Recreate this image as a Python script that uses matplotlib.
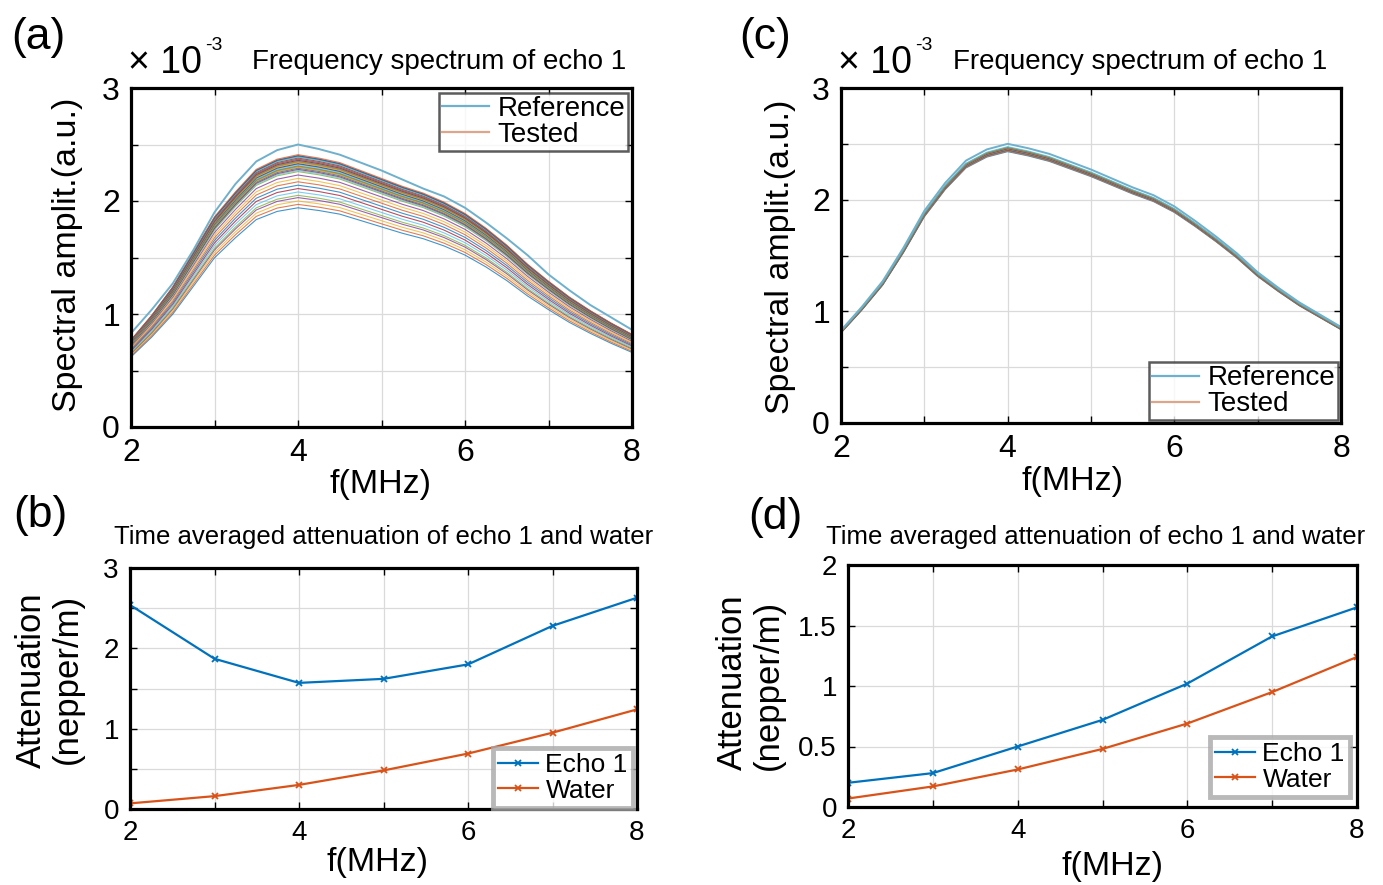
import matplotlib
matplotlib.use('Agg')
import matplotlib.pyplot as plt
from matplotlib.lines import Line2D

plt.rcParams['font.family'] = ['Liberation Sans', 'DejaVu Sans']

# ---------------- data ----------------
freq_spec = [2.0, 2.25, 2.5, 2.75, 3.0, 3.25, 3.5, 3.75, 4.0, 4.25, 4.5, 4.75,
             5.0, 5.25, 5.5, 5.75, 6.0, 6.25, 6.5, 6.75, 7.0, 7.25, 7.5, 7.75, 8.0]
# reference spectrum (x 1e-3)
ref_spec = [0.83, 1.04, 1.27, 1.57, 1.90, 2.15, 2.35, 2.45, 2.50, 2.46, 2.41, 2.34,
            2.27, 2.19, 2.11, 2.04, 1.94, 1.81, 1.67, 1.52, 1.35, 1.21, 1.08, 0.97, 0.86]
# upper tested curve of panel (a)
tested_top_a = [0.77, 0.99, 1.24, 1.55, 1.86, 2.08, 2.28, 2.37, 2.41, 2.38, 2.34, 2.27,
                2.20, 2.13, 2.07, 1.99, 1.89, 1.76, 1.61, 1.44, 1.29, 1.15, 1.03, 0.92, 0.82]
# peak value (at 4 MHz) of every tested curve in panel (a)
peaks_a = [2.41, 2.40, 2.40, 2.39, 2.39, 2.38, 2.38, 2.37, 2.37, 2.36, 2.36, 2.35,
           2.35, 2.34, 2.34, 2.33, 2.33, 2.32, 2.31, 2.31, 2.30, 2.30, 2.29, 2.28,
           2.27, 2.26, 2.23, 2.20, 2.17, 2.14, 2.11, 2.08, 2.05, 2.03, 2.00, 1.97, 1.94]
# peak value (at 4 MHz) of every tested curve in panel (c)
peaks_c = [2.475, 2.47, 2.468, 2.465, 2.462, 2.46, 2.458, 2.456, 2.455, 2.453,
           2.452, 2.45, 2.448, 2.446, 2.445, 2.443, 2.44, 2.438, 2.435, 2.43]

freq_att = [2, 3, 4, 5, 6, 7, 8]
echo_b = [2.54, 1.87, 1.57, 1.62, 1.80, 2.28, 2.63]
water_b = [0.07, 0.16, 0.30, 0.48, 0.69, 0.95, 1.24]
echo_d = [0.20, 0.28, 0.50, 0.72, 1.02, 1.41, 1.65]
water_d = [0.07, 0.17, 0.31, 0.48, 0.69, 0.95, 1.24]

matlab_colors = ['#0072BD', '#D95319', '#EDB120', '#7E2F8E', '#77AC30', '#4DBEEE', '#A2142F']
ref_color = '#6fb0cc'
tested_legend_color = '#dca58c'

# ---------------- figure ----------------
W, H = 1383, 885
fig = plt.figure(figsize=(W / 100, H / 100), dpi=100)


def rect(l, t, r, b):
    return [l / W, 1 - b / H, (r - l) / W, (b - t) / H]


ax_a = fig.add_axes(rect(131, 88, 632, 427))
ax_c = fig.add_axes(rect(841, 88, 1341, 423))
ax_b = fig.add_axes(rect(130, 568, 637, 809))
ax_d = fig.add_axes(rect(848, 565, 1357, 807))


def style(ax, ymax, ystep, ylabels, fs):
    ax.set_xlim(2, 8)
    ax.set_ylim(0, ymax)
    ax.set_xticks([2, 3, 4, 5, 6, 7, 8])
    ax.set_xticklabels(['2', '', '4', '', '6', '', '8'])
    n = int(round(ymax / ystep))
    yt = [i * ystep for i in range(n + 1)]
    ax.set_yticks(yt)
    ax.set_yticklabels(ylabels)
    ax.tick_params(direction='in', length=5, width=1, top=True, right=True,
                   labelsize=fs, pad=8)
    ax.grid(True, color='#dadada', lw=0.9)
    ax.set_axisbelow(True)
    for s in ax.spines.values():
        s.set_linewidth(2.3)
        s.set_color('black')


yl3 = ['0', '', '1', '', '2', '', '3']
style(ax_a, 3, 0.5, yl3, 23)
style(ax_c, 3, 0.5, yl3, 23)
style(ax_b, 3, 0.5, yl3, 20)
style(ax_d, 2, 0.5, ['0', '0.5', '1', '1.5', '2'], 20)

# panel (a)
top_peak = max(tested_top_a)
for i, p in enumerate(peaks_a[::-1]):
    g = p / top_peak
    ax_a.plot(freq_spec, [v * g for v in tested_top_a],
              color=matlab_colors[i % 7], lw=0.8, alpha=0.75)
ax_a.plot(freq_spec, ref_spec, color=ref_color, lw=1.4)

# panel (c)
ref_peak = max(ref_spec)
for i, p in enumerate(peaks_c[::-1]):
    g = p / ref_peak
    ax_c.plot(freq_spec, [v * g for v in ref_spec],
              color=matlab_colors[i % 7], lw=0.8, alpha=0.75)
ax_c.plot(freq_spec, ref_spec, color=ref_color, lw=1.4)

handles = [Line2D([], [], color=ref_color, lw=1.6),
           Line2D([], [], color=tested_legend_color, lw=1.6)]
leg_kw = dict(fontsize=20, frameon=True, fancybox=False, borderpad=0.1,
              labelspacing=0.0, handlelength=1.7, handletextpad=0.3,
              borderaxespad=0)
la = ax_a.legend(handles, ['Reference', 'Tested'], loc='upper right',
                 bbox_to_anchor=(628 / W, 1 - 93 / H), bbox_transform=fig.transFigure, **leg_kw)
lc = ax_c.legend(handles, ['Reference', 'Tested'], loc='lower right',
                 bbox_to_anchor=(1338 / W, 1 - 420 / H), bbox_transform=fig.transFigure, **leg_kw)
for lg in (la, lc):
    lg.get_frame().set_edgecolor('#333333')
    lg.get_frame().set_linewidth(1.8)

# panels (b) and (d)
for ax, e, w, anchor in ((ax_b, echo_b, water_b, (633, 808)),
                         (ax_d, echo_d, water_d, (1350, 797))):
    ax.plot(freq_att, e, color='#0072BD', lw=1.6, marker='x', ms=4, mew=1.3, label='Echo 1')
    ax.plot(freq_att, w, color='#D95319', lw=1.6, marker='x', ms=4, mew=1.3, label='Water')
    lg = ax.legend(loc='lower right', bbox_to_anchor=(anchor[0] / W, 1 - anchor[1] / H),
                   bbox_transform=fig.transFigure, fontsize=19, frameon=True, fancybox=False,
                   borderpad=0.2, labelspacing=0.05, handlelength=1.5, handletextpad=0.3,
                   borderaxespad=0)
    lg.get_frame().set_edgecolor('#a8a8a8')
    lg.get_frame().set_linewidth(3.5)


def ftext(x, y, s, **kw):
    fig.text(x / W, 1 - y / H, s, **kw)


# panel letters
ftext(38, 38, '(a)', fontsize=32, ha='center', va='center')
ftext(765, 38, '(c)', fontsize=32, ha='center', va='center')
ftext(40, 515, '(b)', fontsize=32, ha='center', va='center')
ftext(775, 517, '(d)', fontsize=32, ha='center', va='center')

# exponent and titles of spectra
for x0 in (128, 838):
    ftext(x0, 63, '× 10', fontsize=27, ha='left', va='center')
    ftext(x0 + 77, 45, '-3', fontsize=14, ha='left', va='center')
ftext(439, 62, 'Frequency spectrum of echo 1', fontsize=20, ha='center', va='center')
ftext(1140, 62, 'Frequency spectrum of echo 1', fontsize=20, ha='center', va='center')

ftext(384, 537, 'Time averaged attenuation of echo 1 and water', fontsize=18.5, ha='center', va='center')
ftext(1096, 537, 'Time averaged attenuation of echo 1 and water', fontsize=18.5, ha='center', va='center')

# axis labels
ftext(68, 255, 'Spectral amplit.(a.u.)', fontsize=24.5, rotation=90, ha='center', va='center')
ftext(780, 257, 'Spectral amplit.(a.u.)', fontsize=24.5, rotation=90, ha='center', va='center')
ftext(380, 485, 'f(MHz)', fontsize=24.5, ha='center', va='center')
ftext(1072, 481, 'f(MHz)', fontsize=24.5, ha='center', va='center')
ftext(378, 862, 'f(MHz)', fontsize=24.5, ha='center', va='center')
ftext(1113, 866, 'f(MHz)', fontsize=24.5, ha='center', va='center')

ftext(31, 680, 'Attenuation', fontsize=25, rotation=90, ha='center', va='center')
ftext(67, 679, '(nepper/m)', fontsize=25, rotation=90, ha='center', va='center')
ftext(732, 682, 'Attenuation', fontsize=25, rotation=90, ha='center', va='center')
ftext(768, 685, '(nepper/m)', fontsize=25, rotation=90, ha='center', va='center')

fig.savefig('out.png', dpi=100)
